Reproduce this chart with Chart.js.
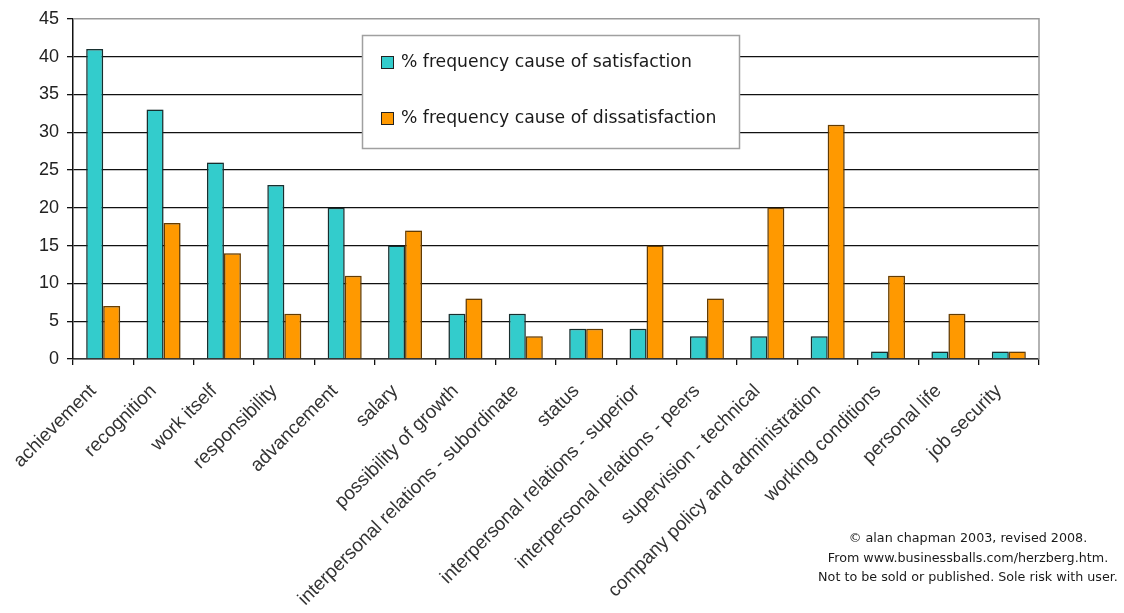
<!DOCTYPE html>
<html>
<head>
<meta charset="utf-8">
<script src="https://cdn.jsdelivr.net/npm/chart.js@4/dist/chart.umd.min.js"></script>
<style>
  html, body { margin: 0; padding: 0; background: #ffffff; }
  #wrap { width: 1124px; height: 613px; position: relative; }
</style>
</head>
<body>
<div id="wrap"><canvas id="chart" width="1124" height="613"></canvas></div>
<script>
// Herzberg factors: how often each one was named as a cause of (dis)satisfaction
const factors = [
  'achievement', 'recognition', 'work itself', 'responsibility', 'advancement',
  'salary', 'possibility of growth', 'interpersonal relations - subordinate', 'status',
  'interpersonal relations - superior', 'interpersonal relations - peers',
  'supervision - technical', 'company policy and administration',
  'working conditions', 'personal life', 'job security'
];
const satisfaction    = [41, 33, 26, 23, 20, 15, 6, 6, 4, 4, 3, 3, 3, 1, 1, 1];
const dissatisfaction = [7, 18, 14, 6, 11, 17, 8, 3, 4, 15, 8, 20, 31, 11, 6, 1];
const seriesNames = ['% frequency cause of satisfaction', '% frequency cause of dissatisfaction'];
const yTicks = [0, 5, 10, 15, 20, 25, 30, 35, 40, 45];
const creditLines = [
  '\u00A9 alan chapman 2003, revised 2008.',
  'From www.businessballs.com/herzberg.htm.',
  'Not to be sold or published. Sole risk with user.'
];

const TEAL = '#33CCCC', ORANGE = '#FF9900';
const NOTE_FAMILY = '"DejaVu Sans", Verdana, sans-serif';

// Pick a font size so that `text` spans `width` pixels
function fitFont(ctx, text, width, family) {
  ctx.font = '100px ' + family;
  const size = 100 * width / ctx.measureText(text).width;
  return size.toFixed(2) + 'px ' + family;
}

// Soft grey halo around the bars
const barHalo = {
  id: 'barHalo',
  beforeDatasetsDraw(chart) {
    chart.ctx.save();
    chart.ctx.shadowColor = 'rgba(0,0,0,0.28)';
    chart.ctx.shadowBlur = 2.5;
  },
  afterDatasetsDraw(chart) {
    chart.ctx.restore();
  }
};

// Boxed legend sitting inside the plot area
const boxLegend = {
  id: 'boxLegend',
  afterDraw(chart) {
    const ctx = chart.ctx;
    const x = 362.5, y = 35.5, w = 377, h = 113;
    ctx.save();
    ctx.fillStyle = '#ffffff';
    ctx.fillRect(x, y, w, h);
    ctx.strokeStyle = '#a0a0a0';
    ctx.lineWidth = 1.5;
    ctx.strokeRect(x, y, w, h);
    ctx.font = fitFont(ctx, chart.data.datasets[0].label, 291, NOTE_FAMILY);
    ctx.textBaseline = 'middle';
    ctx.textAlign = 'left';
    const rows = [63, 119];
    chart.data.datasets.forEach((ds, i) => {
      const cy = rows[i];
      ctx.fillStyle = ds.backgroundColor;
      ctx.fillRect(381.5, cy - 6.5, 12, 12);
      ctx.strokeStyle = '#222';
      ctx.lineWidth = 1;
      ctx.strokeRect(381.5, cy - 6.5, 12, 12);
      ctx.fillStyle = '#1a1a1a';
      ctx.fillText(ds.label, 401, cy);
    });
    ctx.restore();
  }
};

// Grey frame on the top and right of the plot area, plus the credit note
const frameAndCredit = {
  id: 'frameAndCredit',
  beforeDatasetsDraw(chart) {
    const { ctx, chartArea: a } = chart;
    ctx.save();
    ctx.strokeStyle = '#9a9a9a';
    ctx.lineWidth = 1.5;
    ctx.beginPath();
    ctx.moveTo(a.left, a.top);
    ctx.lineTo(a.right, a.top);
    ctx.lineTo(a.right, a.bottom);
    ctx.stroke();
    ctx.restore();
  },
  afterDraw(chart) {
    const ctx = chart.ctx;
    ctx.save();
    ctx.font = fitFont(ctx, creditLines[2], 300, NOTE_FAMILY);
    ctx.fillStyle = '#1a1a1a';
    ctx.textAlign = 'center';
    ctx.textBaseline = 'middle';
    creditLines.forEach((t, i) => ctx.fillText(t, 968, 539 + i * 19.5));
    ctx.restore();
  }
};

new Chart(document.getElementById('chart'), {
  type: 'bar',
  data: {
    labels: factors,
    datasets: [
      { label: seriesNames[0], data: satisfaction, backgroundColor: TEAL,
        borderColor: '#1a3333', borderWidth: 1.5, borderSkipped: 'bottom' },
      { label: seriesNames[1], data: dissatisfaction, backgroundColor: ORANGE,
        borderColor: '#6e4200', borderWidth: 1.5, borderSkipped: 'bottom' }
    ]
  },
  options: {
    responsive: false,
    animation: false,
    devicePixelRatio: 1,
    layout: { padding: { left: 0, top: 18, right: 85, bottom: 0 } },
    datasets: { bar: { categoryPercentage: 0.563, barPercentage: 1 } },
    plugins: { legend: { display: false }, tooltip: { enabled: false } },
    scales: {
      x: {
        grid: { offset: true, drawOnChartArea: false, drawTicks: true, tickLength: 6,
                color: '#111', lineWidth: 1.3 },
        border: { color: '#333', width: 1.5 },
        ticks: {
          autoSkip: false, minRotation: 45, maxRotation: 45, labelOffset: -10, padding: 15,
          color: '#333', font: { family: '"Liberation Sans", Arial, sans-serif', size: 19 }
        },
        afterFit(scale) { scale.height = 254; scale.paddingLeft = 0; scale.paddingRight = 0; }
      },
      y: {
        min: 0, max: 45,
        afterBuildTicks(scale) { scale.ticks = yTicks.map(v => ({ value: v })); },
        grid: {
          color: ctx => (ctx.tick && ctx.tick.value === 45 ? 'rgba(0,0,0,0)' : '#111'),
          lineWidth: 1.3, tickLength: 6, tickColor: '#111'
        },
        border: { color: '#111', width: 1.5 },
        ticks: { padding: 8, color: '#222',
                 font: { family: '"Liberation Sans", Arial, sans-serif', size: 18 } },
        afterFit(scale) { scale.width = 73; }
      }
    }
  },
  plugins: [frameAndCredit, barHalo, boxLegend]
});
</script>
</body>
</html>
